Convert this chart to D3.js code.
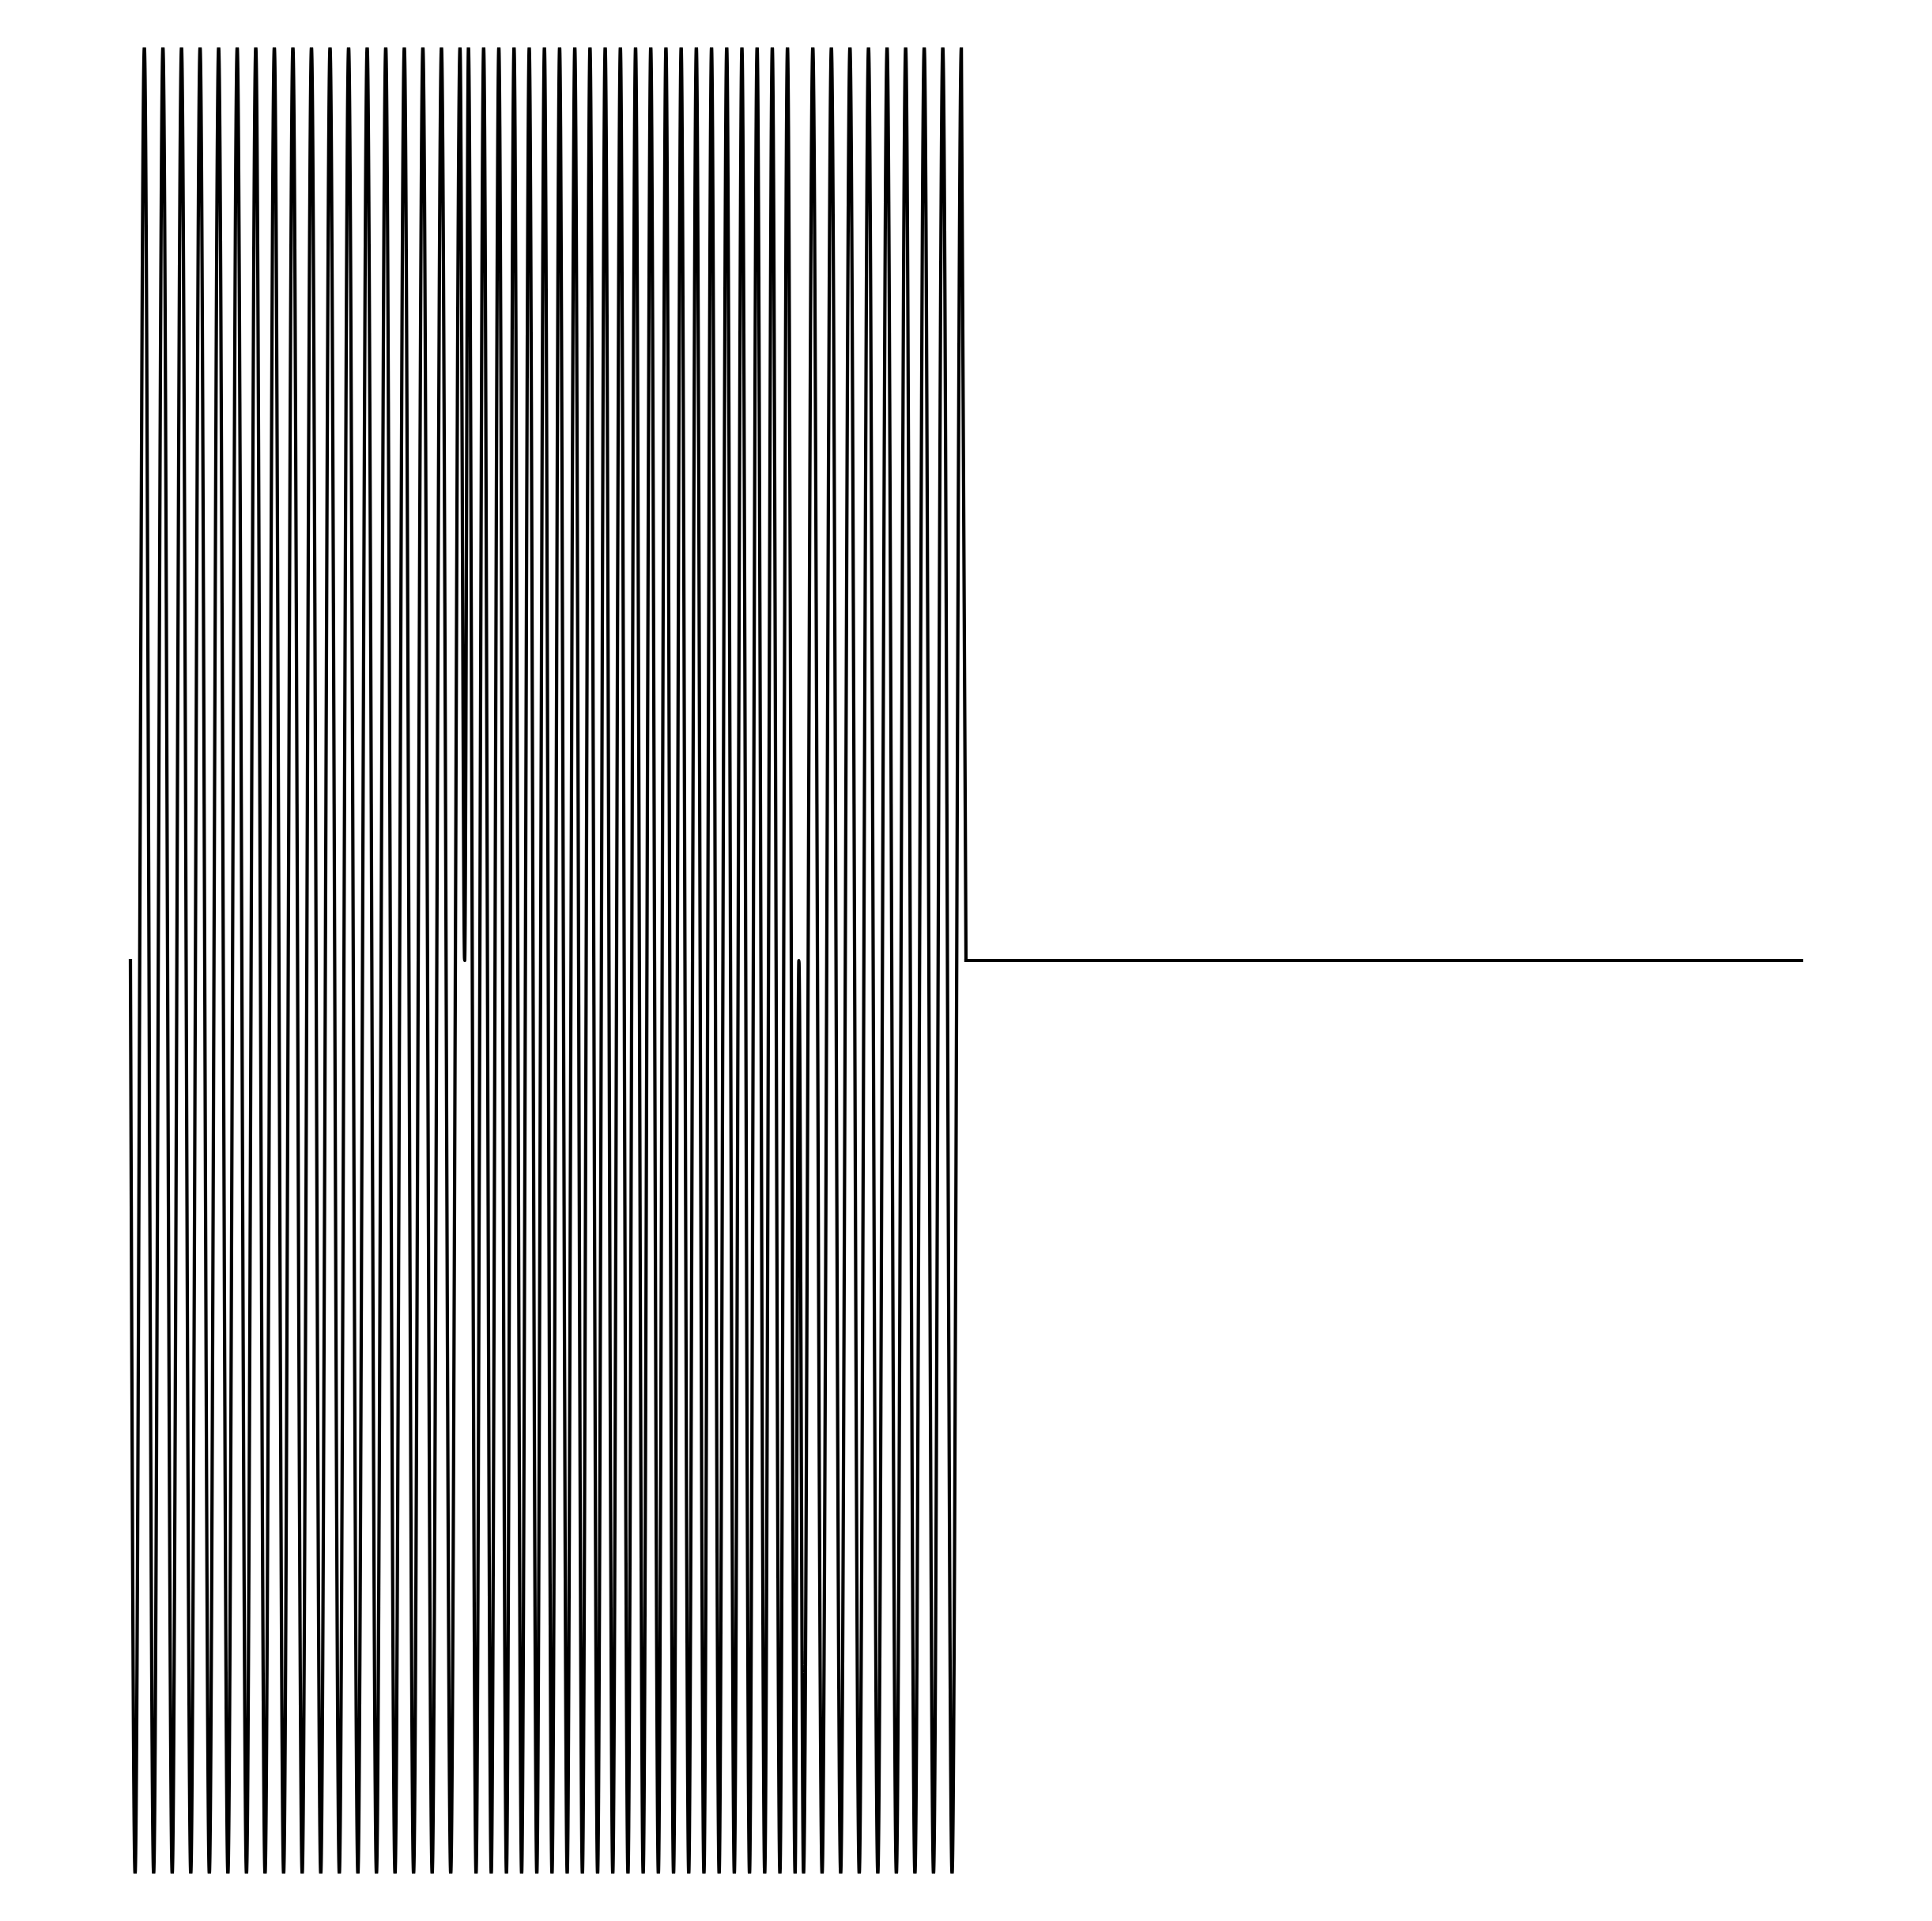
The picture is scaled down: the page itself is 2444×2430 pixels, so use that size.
<!DOCTYPE html>
<html>
<head>
<meta charset="utf-8">
<script src="https://cdn.jsdelivr.net/npm/d3@7"></script>
<style>
  html, body { margin: 0; padding: 0; background: #fff; }
</style>
</head>
<body>
<div id="chart"></div>
<script>
// times (s) of the crests (+1) and troughs (-1) of each tone burst
var burst1Troughs = [0.00278, 0.01389, 0.02500, 0.03611, 0.04722, 0.05833, 0.06944, 0.08056, 0.09167,
                     0.10278, 0.11389, 0.12500, 0.13611, 0.14722, 0.15833, 0.16944, 0.18056, 0.19167];
var burst1Peaks   = [0.00833, 0.01944, 0.03056, 0.04167, 0.05278, 0.06389, 0.07500, 0.08611, 0.09722,
                     0.10833, 0.11944, 0.13056, 0.14167, 0.15278, 0.16389, 0.17500, 0.18611, 0.19722];

var burst2Peaks   = [0.20227, 0.21136, 0.22045, 0.22955, 0.23864, 0.24773, 0.25682, 0.26591, 0.27500, 0.28409, 0.29318,
                     0.30227, 0.31136, 0.32045, 0.32955, 0.33864, 0.34773, 0.35682, 0.36591, 0.37500, 0.38409, 0.39318];
var burst2Troughs = [0.20682, 0.21591, 0.22500, 0.23409, 0.24318, 0.25227, 0.26136, 0.27045, 0.27955, 0.28864, 0.29773,
                     0.30682, 0.31591, 0.32500, 0.33409, 0.34318, 0.35227, 0.36136, 0.37045, 0.37955, 0.38864, 0.39773];

var burst3Troughs = [0.40278, 0.41389, 0.42500, 0.43611, 0.44722, 0.45833, 0.46944, 0.48056, 0.49167];
var burst3Peaks   = [0.40833, 0.41944, 0.43056, 0.44167, 0.45278, 0.46389, 0.47500, 0.48611, 0.49722];

// points where the signal sits on zero: burst edges, then the silent tail
var burstEdges = [0, 0.2, 0.4, 0.5];
var silence = [0.5, 1.0];

var width = 2444, height = 2430;
var margin = {top: 60, right: 165, bottom: 60, left: 165};

var svg = d3.select("#chart").append("svg")
    .attr("width", width)
    .attr("height", height)
    .style("display", "block")
    .style("background", "#fff");

var x = d3.scaleLinear()
    .domain([0, 1])
    .range([margin.left, width - margin.right]);

var y = d3.scaleLinear()
    .domain([-1, 1])
    .range([height - margin.bottom, margin.top]);

// y limits are tight on the amplitude, so the crests get clipped flat
svg.append("clipPath")
    .attr("id", "plotClip")
  .append("rect")
    .attr("x", 0)
    .attr("y", margin.top)
    .attr("width", width)
    .attr("height", height - margin.top - margin.bottom);

var points = [];
[burst1Peaks, burst2Peaks, burst3Peaks].forEach(function(arr) {
    arr.forEach(function(t) { points.push([t, 1]); });
});
[burst1Troughs, burst2Troughs, burst3Troughs].forEach(function(arr) {
    arr.forEach(function(t) { points.push([t, -1]); });
});
burstEdges.forEach(function(t) { points.push([t, 0]); });
points.sort(function(a, b) { return a[0] - b[0]; });

var wave = d3.line()
    .curve(d3.curveMonotoneX)
    .x(function(d) { return x(d[0]); })
    .y(function(d) { return y(d[1]); });

var flat = d3.line()
    .x(function(d) { return x(d); })
    .y(function() { return y(0); });

var g = svg.append("g")
    .attr("clip-path", "url(#plotClip)");

g.append("path")
    .datum(points)
    .attr("fill", "none")
    .attr("stroke", "#000")
    .attr("stroke-width", 4.2)
    .attr("stroke-linejoin", "round")
    .attr("stroke-linecap", "square")
    .attr("d", wave);

g.append("path")
    .datum(silence)
    .attr("fill", "none")
    .attr("stroke", "#000")
    .attr("stroke-width", 4.2)
    .attr("stroke-linecap", "square")
    .attr("d", flat);
</script>
</body>
</html>
